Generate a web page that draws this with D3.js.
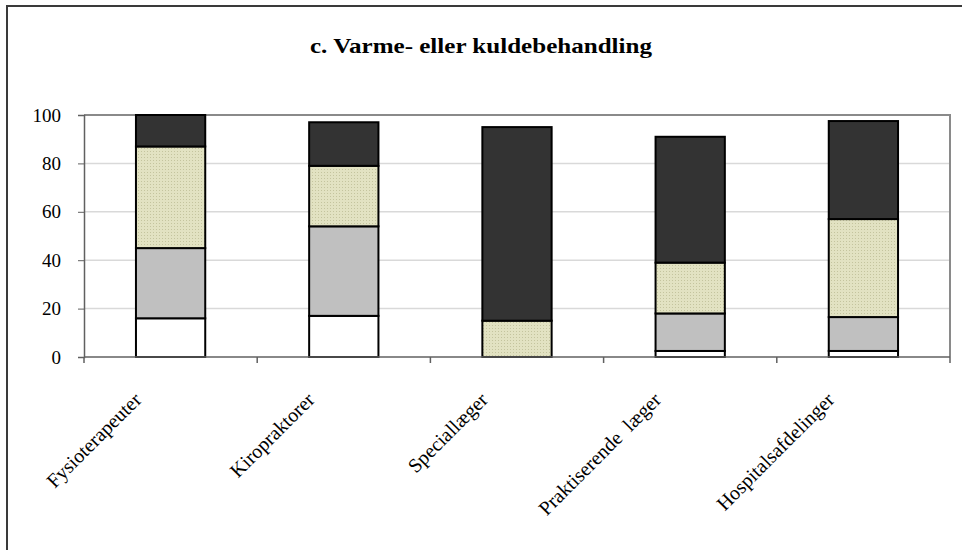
<!DOCTYPE html>
<html>
<head>
<meta charset="utf-8">
<script src="https://cdn.jsdelivr.net/npm/d3@7"></script>
<style>
  body { margin: 0; background: #fff; }
  text { font-family: "Liberation Serif", "Times New Roman", serif; }
</style>
</head>
<body>
<div class="canvas"></div>
<script>
const dims = { width: 962, height: 550 };
const margin = { top: 115, right: 12, bottom: 193, left: 84 };
const serif = '"Liberation Serif", "Times New Roman", serif';

const title = "c. Varme- eller kuldebehandling";
const categories = ["Fysioterapeuter", "Kiropraktorer", "Speciallæger", "Praktiserende  læger", "Hospitalsafdelinger"];
const yTicks = [0, 20, 40, 60, 80, 100];

// stacked segments, bottom to top
const seriesKeys = ["hvid", "graa", "beige", "moerk"];
const hvid = [16, 17, 0, 2.5, 2.5];
const graa = [29, 37, 0, 15.5, 14];
const beige = [42, 25, 15, 21, 40.5];
const moerk = [13, 18, 80, 52, 40.5];

const svg = d3
  .select(".canvas")
  .append("svg")
  .attr("width", dims.width)
  .attr("height", dims.height);

// dotted fill for the beige series
const pat = svg
  .append("defs")
  .append("pattern")
  .attr("id", "dots")
  .attr("width", 3)
  .attr("height", 3)
  .attr("patternUnits", "userSpaceOnUse");
pat.append("rect").attr("width", 3).attr("height", 3).attr("fill", "#e2e2c2");
pat.append("rect").attr("width", 1).attr("height", 1).attr("fill", "#c4c49e");

const colors = { hvid: "#ffffff", graa: "#c0c0c0", beige: "url(#dots)", moerk: "#333333" };

// outer frame (runs off the right and bottom edge)
svg
  .append("rect")
  .attr("x", 7)
  .attr("y", 6)
  .attr("width", 1000)
  .attr("height", 600)
  .attr("fill", "none")
  .attr("stroke", "#3a3a3a")
  .attr("stroke-width", 2);

svg
  .append("text")
  .attr("x", 481)
  .attr("y", 53)
  .attr("text-anchor", "middle")
  .attr("textLength", 342)
  .attr("lengthAdjust", "spacingAndGlyphs")
  .style("font-family", serif)
  .style("font-size", "22px")
  .style("font-weight", "bold")
  .text(title);

const innerW = dims.width - margin.left - margin.right;
const innerH = dims.height - margin.top - margin.bottom;

const x = d3.scaleBand().domain(categories).range([0, innerW]).paddingInner(0.6).paddingOuter(0.3);
const y = d3.scaleLinear().domain([0, 100]).range([innerH, 0]);

const g = svg.append("g").attr("transform", `translate(${margin.left},${margin.top})`);

// gridlines
g.append("g")
  .selectAll("line")
  .data(yTicks.filter((d) => d > 0 && d < 100))
  .join("line")
  .attr("x1", 0)
  .attr("x2", innerW)
  .attr("y1", (d) => y(d))
  .attr("y2", (d) => y(d))
  .attr("stroke", "#d9d9d9")
  .attr("stroke-width", 1.5);

// plot area border top + right
g.append("path")
  .attr("d", `M0,${y(100)}H${innerW}V${innerH}`)
  .attr("fill", "none")
  .attr("stroke", "#8a8a8a")
  .attr("stroke-width", 2);

const table = categories.map((c, i) => ({
  cat: c,
  hvid: hvid[i],
  graa: graa[i],
  beige: beige[i],
  moerk: moerk[i],
}));

const stacked = d3.stack().keys(seriesKeys)(table);

g.append("g")
  .selectAll("g")
  .data(stacked)
  .join("g")
  .attr("fill", (d) => colors[d.key])
  .selectAll("rect")
  .data((d) => d.filter((s) => s[1] - s[0] > 0))
  .join("rect")
  .attr("x", (d) => x(d.data.cat))
  .attr("width", x.bandwidth())
  .attr("y", (d) => y(d[1]))
  .attr("height", (d) => y(d[0]) - y(d[1]))
  .attr("stroke", "#000")
  .attr("stroke-width", 2);

// y axis
const yAxis = g
  .append("g")
  .call(d3.axisLeft(y).tickValues(yTicks).tickSize(6).tickPadding(17).tickFormat(d3.format("d")));
yAxis.selectAll("line").attr("stroke", "#606060");
yAxis.select(".domain").attr("stroke", "#606060").attr("stroke-width", 1.5);
yAxis
  .selectAll("text")
  .style("font-family", serif)
  .style("font-size", "19px")
  .attr("fill", "#000");

// x axis, ticks sit on the band boundaries
const xAxis = g.append("g").attr("transform", `translate(0,${innerH})`);
xAxis
  .append("line")
  .attr("x1", 0)
  .attr("x2", innerW)
  .attr("stroke", "#606060")
  .attr("stroke-width", 1.5);
xAxis
  .selectAll(".tk")
  .data(d3.range(categories.length + 1))
  .join("line")
  .attr("class", "tk")
  .attr("x1", (i) => i * x.step())
  .attr("x2", (i) => i * x.step())
  .attr("y1", 0)
  .attr("y2", 6)
  .attr("stroke", "#606060")
  .attr("stroke-width", 1.5);

xAxis
  .selectAll("text")
  .data(categories)
  .join("text")
  .attr("transform", (d) => `translate(${x(d) + x.bandwidth() / 2 - 28},44) rotate(-45)`)
  .attr("text-anchor", "end")
  .style("font-family", serif)
  .style("font-size", "20px")
  .style("white-space", "pre")
  .text((d) => d);
</script>
</body>
</html>
